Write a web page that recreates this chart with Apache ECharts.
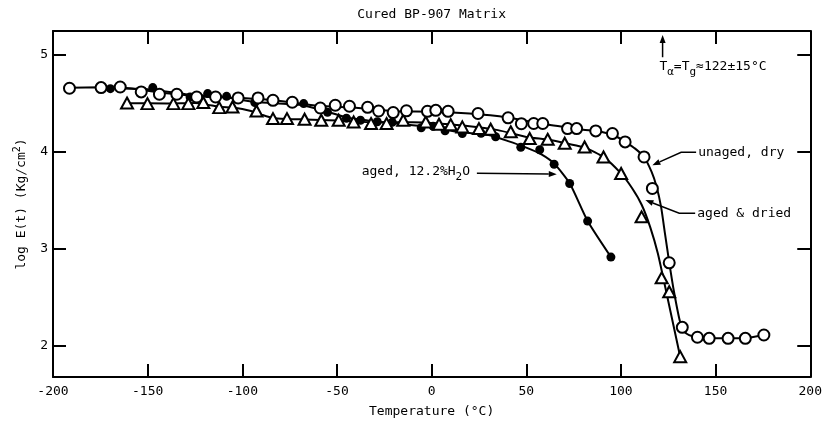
<!DOCTYPE html>
<html><head><meta charset="utf-8">
<script src="https://cdn.jsdelivr.net/npm/echarts@6/dist/echarts.min.js"></script>
<style>html,body{margin:0;padding:0;background:#fff}#c{width:825px;height:426px}</style>
</head><body><div id="c"></div>
<script>
const FONT = '"DejaVu Sans Mono", monospace';
const yTickValues = [2, 3, 4, 5];

// Unaged, dry (open circles)
const unagedDryT = [-191.3,-174.6,-164.5,-153.4,-143.8,-134.6,-124.1,-114.1,-102.2,-91.7,-83.8,-73.6,-58.8,-50.9,-43.4,-33.8,-28.0,-20.3,-13.3,-2.2,2.2,8.7,24.5,40.4,47.4,53.9,58.7,71.8,76.6,86.7,95.5,102.2,112.2,116.6,125.5,132.4,140.4,146.6,156.6,165.7,175.5];
const unagedDryLogE = [4.651,4.658,4.664,4.613,4.589,4.589,4.561,4.561,4.551,4.551,4.527,4.507,4.448,4.476,4.466,4.455,4.417,4.401,4.419,4.414,4.424,4.414,4.391,4.347,4.286,4.288,4.288,4.236,4.236,4.212,4.185,4.099,3.944,3.620,2.855,2.191,2.089,2.078,2.078,2.078,2.112];
// Aged & dried (triangles)
const agedDriedT = [-160.9,-150.1,-136.4,-128.5,-120.6,-112.2,-105.2,-92.5,-83.8,-76.4,-67.1,-58.3,-49.1,-41.2,-32.0,-23.8,-15.0,-3.1,3.9,10.1,16.2,25.0,31.2,41.8,51.8,61.3,70.3,80.8,90.8,100.1,110.9,121.5,125.5,131.3];
const agedDriedLogE = [4.499,4.493,4.493,4.493,4.504,4.452,4.458,4.417,4.339,4.339,4.332,4.322,4.322,4.304,4.288,4.288,4.322,4.304,4.281,4.277,4.253,4.236,4.229,4.203,4.134,4.126,4.085,4.047,3.944,3.774,3.328,2.701,2.557,1.889];
// Aged, 12.2% H2O (filled circles)
const agedWetT = [-169.7,-147.3,-127.6,-118.3,-108.3,-93.4,-67.6,-55.0,-45.0,-37.6,-28.7,-20.8,-5.5,0.8,7.1,16.2,26.1,33.8,47.1,57.1,64.7,72.9,82.4,94.7];
const agedWetLogE = [4.647,4.658,4.561,4.596,4.568,4.504,4.493,4.404,4.342,4.322,4.306,4.301,4.245,4.260,4.214,4.185,4.188,4.152,4.044,4.018,3.869,3.671,3.284,2.914];

// Hand-drawn curves
const unagedCurveT = [-191.3,-175,-160,-140,-120,-100,-80,-60,-40,-20,0,20,40,60,80,90,97,102.2,107.5,112.2,116.2,118.8,121.2,123.3,125.5,128,131.2,133.5,136,140.4,146.6,156.6,165.7,175.5];
const unagedCurveLogE = [4.655,4.66,4.65,4.60,4.565,4.55,4.52,4.47,4.45,4.415,4.41,4.39,4.35,4.28,4.225,4.20,4.16,4.10,4.03,3.944,3.79,3.64,3.43,3.15,2.86,2.56,2.25,2.15,2.11,2.089,2.08,2.078,2.08,2.112];
const driedCurveT = [-160.9,-140,-125,-118,-112,-104,-96,-90,-84,-76,-67,-50,-30,-10,5,20,35,50,62,72,81,91,100,106,111,115.5,119.5,125,131.3];
const driedCurveLogE = [4.497,4.495,4.50,4.48,4.46,4.45,4.42,4.38,4.345,4.335,4.33,4.32,4.30,4.30,4.285,4.26,4.22,4.15,4.12,4.08,4.04,3.94,3.775,3.62,3.45,3.22,2.95,2.46,1.889];
const wetCurveT = [-169.7,-150,-130,-110,-93,-70,-55,-45,-30,-15,0,15,30,40,50,58,65,73,82.4,94.7];
const wetCurveLogE = [4.65,4.64,4.59,4.56,4.51,4.48,4.41,4.35,4.31,4.28,4.25,4.20,4.17,4.11,4.04,3.97,3.87,3.67,3.284,2.914];

const zip = (a, b) => a.map((v, i) => [v, b[i]]);
const AX = {color: '#000', width: 2};

const chart = echarts.init(document.getElementById('c'), null, {renderer: 'canvas'});
const txt = {fontFamily: FONT, fontSize: 13, color: '#000'};

function mkX(pos, show) {
  return {
    type: 'value', min: -200, max: 200, interval: 50, position: pos,
    axisLine: {show: true, onZero: false, lineStyle: AX},
    axisTick: {show: true, inside: true, length: 13, lineStyle: AX},
    axisLabel: Object.assign({show: show, margin: 8}, txt),
    splitLine: {show: false},
    name: show ? 'Temperature (°C)' : '', nameLocation: 'middle', nameGap: 28,
    nameTextStyle: txt
  };
}
function mkY(pos, show) {
  return {
    type: 'value', min: 1.68, max: 5.24, position: pos,
    axisLine: {show: true, onZero: false, lineStyle: AX},
    axisTick: {show: true, inside: true, length: 13, lineStyle: AX, customValues: yTickValues},
    axisLabel: Object.assign({show: show, margin: 5, customValues: yTickValues}, txt),
    splitLine: {show: false},
    name: show ? 'log E(t) (Kg/cm{sup|2})' : '', nameLocation: 'middle', nameGap: 22, nameRotate: 90,
    nameTextStyle: Object.assign({}, txt, {rich: {sup: {fontFamily: FONT, fontSize: 10, color: '#000', padding: [0, 0, 9, 0]}}})
  };
}

const lineSeries = (d) => ({
  type: 'line', data: d, xAxisIndex: 0, yAxisIndex: 0, showSymbol: false, symbol: 'none',
  smooth: 0.2, lineStyle: {color: '#000', width: 2}, z: 2, silent: true
});

chart.setOption({
  animation: false,
  backgroundColor: '#fff',
  grid: {left: 53, right: 12, top: 31, bottom: 49},
  xAxis: [mkX('bottom', true), mkX('top', false)],
  yAxis: [mkY('left', true), mkY('right', false)],
  series: [
    lineSeries(zip(unagedCurveT, unagedCurveLogE)),
    lineSeries(zip(driedCurveT, driedCurveLogE)),
    lineSeries(zip(wetCurveT, wetCurveLogE)),
    {type: 'scatter', name: 'aged, 12.2%H2O', data: zip(agedWetT, agedWetLogE), symbol: 'circle', symbolSize: 9,
     itemStyle: {color: '#000', opacity: 1}, z: 4},
    {type: 'scatter', name: 'aged & dried', data: zip(agedDriedT, agedDriedLogE), symbol: 'triangle', symbolSize: [12, 11],
     itemStyle: {color: '#fff', borderColor: '#000', borderWidth: 2, opacity: 1}, z: 5},
    {type: 'scatter', name: 'unaged, dry', data: zip(unagedDryT, unagedDryLogE), symbol: 'circle', symbolSize: 11,
     itemStyle: {color: '#fff', borderColor: '#000', borderWidth: 2, opacity: 1}, z: 6}
  ]
});

// Annotations (anchored in data coordinates)
const P = (x, y) => chart.convertToPixel({xAxisIndex: 0, yAxisIndex: 0}, [x, y]);
function arrow(pts) {
  const px = pts.map(p => P(p[0], p[1]));
  const a = px[px.length - 2], b = px[px.length - 1];
  const ang = Math.atan2(b[1] - a[1], b[0] - a[0]);
  const L = 8, W = 3;
  const base = [b[0] - L * Math.cos(ang), b[1] - L * Math.sin(ang)];
  const nx = -Math.sin(ang) * W, ny = Math.cos(ang) * W;
  return [
    {type: 'polyline', shape: {points: px.slice(0, -1).concat([base])}, style: {stroke: '#000', lineWidth: 1.5, fill: null}, z: 10},
    {type: 'polygon', shape: {points: [b, [base[0] + nx, base[1] + ny], [base[0] - nx, base[1] - ny]]}, style: {fill: '#000'}, z: 10}
  ];
}
const subRich = {
  n: {fontFamily: FONT, fontSize: 13, fill: '#000'},
  sub: {fontFamily: FONT, fontSize: 11, fill: '#000', padding: [10, 0, 0, 0]}
};
function label(x, y, text, align) {
  const p = P(x, y);
  return {type: 'text', x: p[0], y: p[1], z: 10,
    style: {text: text, fontFamily: FONT, fontSize: 13, fill: '#000', align: align, verticalAlign: 'middle', rich: subRich}};
}
const mid = P(0, 5.24);
const g = [].concat(
  [{type: 'text', x: mid[0], y: 15, z: 10,
    style: {text: 'Cured BP-907 Matrix', fontFamily: FONT, fontSize: 13, fill: '#000', align: 'center', verticalAlign: 'middle'}}],
  [label(20.3, 3.79, '{n|aged, 12.2%H}{sub|2}{n|O}', 'right')],
  arrow([[23.9, 3.777], [66.1, 3.767]]),
  [label(140.8, 3.993, 'unaged, dry', 'left')],
  arrow([[139.7, 3.993], [131.8, 3.993], [116.6, 3.859]]),
  [label(140.3, 3.366, 'aged & dried', 'left')],
  arrow([[139.2, 3.366], [130.8, 3.366], [112.9, 3.50]]),
  [label(120.3, 4.87, '{n|T}{sub|α}{n|=T}{sub|g}{n|≈122±15°C}', 'left')],
  arrow([[122, 4.97], [122, 5.20]])
);
chart.setOption({graphic: g});
</script></body></html>
